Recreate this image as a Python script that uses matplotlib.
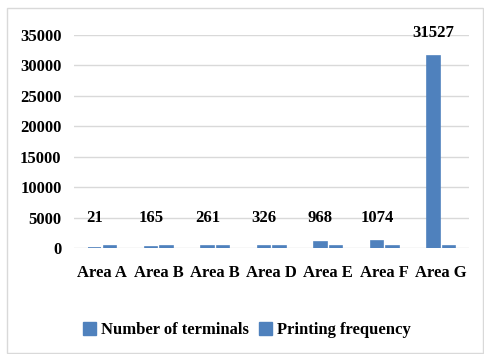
import matplotlib.pyplot as plt
from matplotlib.patches import Patch, Rectangle
import numpy as np

areas = ["Area A", "Area B", "Area B", "Area D", "Area E", "Area F", "Area G"]
terminals = [21, 165, 261, 326, 968, 1074, 31527]
printing = [300, 300, 300, 300, 300, 300, 300]

bar_color = "#4F81BD"
plt.rcParams['font.family'] = ['Liberation Serif', 'DejaVu Serif']
plt.rcParams['font.weight'] = 'bold'

fig = plt.figure(figsize=(4.84, 3.54), dpi=100)
ax = fig.add_axes([0.153, 0.2994, 0.817, 0.6016])

x = np.arange(len(areas))
w = 0.22
off = 0.14
ax.bar(x - off, terminals, w, color=bar_color, edgecolor=bar_color, linewidth=1.2)
ax.bar(x + off, printing, w, color=bar_color, edgecolor=bar_color, linewidth=1.2)

# value labels sit above the terminal bars, small ones on a common line
for xi, v in zip(x, terminals):
    ax.text(xi - off, max(v, 1100) + 2500, str(v), ha='center', va='bottom',
            fontsize=12, fontweight='bold', clip_on=False)

ax.set_xlim(-0.5, len(areas) - 0.5)
ax.set_ylim(0, 35000)
ax.set_yticks(range(0, 35001, 5000))
ax.set_xticks(x)
ax.set_xticklabels(areas)
ax.tick_params(length=0, labelsize=12, pad=9)
ax.tick_params(axis='x', pad=12)
ax.grid(axis='y', color='#d9d9d9', linewidth=1)
ax.set_axisbelow(True)
for s in ax.spines.values():
    s.set_visible(False)

handles = [Patch(color=bar_color, label="Number of terminals"),
           Patch(color=bar_color, label="Printing frequency")]
fig.legend(handles=handles, loc='center', bbox_to_anchor=(0.51, 0.068), ncol=2,
           frameon=False, fontsize=12, handlelength=0.8, handleheight=0.8,
           handletextpad=0.3, columnspacing=0.6)

fig.patches.append(Rectangle((7 / 484, 1 / 354), 476 / 484, 345 / 354,
                             transform=fig.transFigure, fill=False,
                             edgecolor='#d9d9d9', linewidth=1))

fig.savefig("out.png", dpi=100)
